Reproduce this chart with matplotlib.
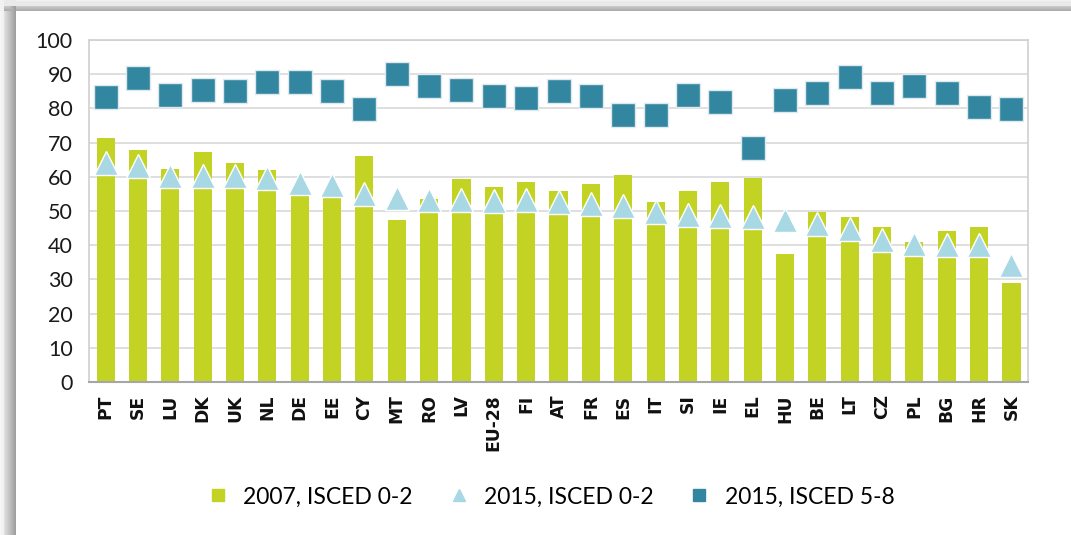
import numpy as np
from matplotlib import pyplot as plt
from matplotlib.lines import Line2D

paises = ['PT', 'SE', 'LU', 'DK', 'UK', 'NL', 'DE', 'EE', 'CY', 'MT', 'RO', 'LV', 'EU-28', 'FI',
          'AT', 'FR', 'ES', 'IT', 'SI', 'IE', 'EL', 'HU', 'BE', 'LT', 'CZ', 'PL', 'BG', 'HR', 'SK']
isced02_2007 = [71.3, 67.9, 62.3, 67.2, 64.2, 61.9, 54.5, 54.1, 66.1, 47.4, 53.6, 59.3, 57.0, 58.5,
                55.9, 57.8, 60.5, 52.6, 55.9, 58.5, 59.8, 37.5, 49.7, 48.4, 45.4, 40.9, 44.3, 45.4, 28.9]
isced02_2015 = [64.0, 63.3, 60.4, 60.3, 60.3, 59.6, 58.2, 57.7, 55.1, 53.9, 53.2, 53.2, 53.0, 53.2,
                52.6, 52.0, 51.6, 49.8, 48.9, 48.7, 48.2, 47.4, 46.2, 44.8, 41.6, 40.4, 40.1, 40.0, 34.1]
isced58_2015 = [83.4, 89.0, 84.0, 85.5, 85.2, 87.7, 87.7, 85.2, 79.9, 90.2, 86.7, 85.5, 83.7, 83.0,
                85.2, 83.7, 78.0, 78.0, 84.0, 81.9, 68.3, 82.6, 84.5, 89.3, 84.5, 86.7, 84.5, 80.3, 79.9]
legenda = ['2007, ISCED 0-2', '2015, ISCED 0-2', '2015, ISCED 5-8']

verde = '#C2D324'
azul_claro = '#A9D8E5'
azul = '#33869F'

plt.rcParams['font.family'] = ['Lato', 'DejaVu Sans']
fig = plt.figure(figsize=(10.71, 5.35), dpi=100)

# moldura com sombra (esquerda e topo)
bg = fig.add_axes([0, 0, 1, 1], zorder=-10)
H, W = 535, 1071
xs = np.arange(W)
ys = np.arange(H)
sx = np.clip(xs / 16.0, 0, 1)
sy = np.clip(ys / 11.0, 0, 1)
sombra_x = np.where(xs < 16, 0.97 - 0.37 * sx, 1.0)
sombra_y = np.where(ys < 11, 0.95 - 0.30 * sy, 1.0)
img = np.minimum(sombra_x[None, :], sombra_y[:, None])
img[:6, :] = np.maximum(img[:6, :], 0.92)
img[:, :4] = np.maximum(img[:, :4], 0.95)
bg.imshow(np.dstack([img, img, img]), aspect='auto', extent=[0, 1, 0, 1], interpolation='bilinear')
bg.set_axis_off()

ax = fig.add_axes([0.0835, 0.286, 0.876, 0.639])
x = np.arange(len(paises))
ax.bar(x, isced02_2007, width=0.56, color=verde, zorder=2, label=legenda[0])
ax.plot(x, isced02_2015, linestyle='none', marker='^', markersize=17, color=azul_claro,
        markeredgecolor='white', markeredgewidth=1, zorder=3, label=legenda[1])
ax.plot(x, isced58_2015, linestyle='none', marker='s', markersize=17, color=azul,
        markeredgecolor='#DDE9EE', markeredgewidth=1, zorder=3, label=legenda[2])

ax.set_xlim(-0.5, len(paises) - 0.5)
ax.set_ylim(0, 100)
ax.set_yticks(range(0, 101, 10))
ax.set_xticks(x)
ax.set_xticklabels(paises, rotation=90, fontsize=12.3, color='#111111',
                   family='DejaVu Sans', fontweight='bold')
ax.tick_params(axis='y', labelsize=15.5, colors='#1A1A1A', length=0, pad=12)
ax.tick_params(axis='x', length=0, pad=9)
ax.grid(axis='y', color='#D9D9D9', linewidth=1.2, zorder=0)
for lado in ['top', 'right', 'left']:
    ax.spines[lado].set_color('#D0D0D0')
    ax.spines[lado].set_linewidth(1.2)
ax.spines['bottom'].set_color('#A6A6A6')
ax.spines['bottom'].set_linewidth(1.5)

h = [Line2D([], [], linestyle='none', marker='s', markersize=9, color=verde),
     Line2D([], [], linestyle='none', marker='^', markersize=9, color=azul_claro),
     Line2D([], [], linestyle='none', marker='s', markersize=9, color=azul)]
fig.legend(h, legenda, loc='center', bbox_to_anchor=(0.513, 0.071), ncol=3, frameon=False,
           fontsize=16.5, columnspacing=1.4, handletextpad=0.5, handlelength=1.2)

fig.savefig('out.png', dpi=100)
